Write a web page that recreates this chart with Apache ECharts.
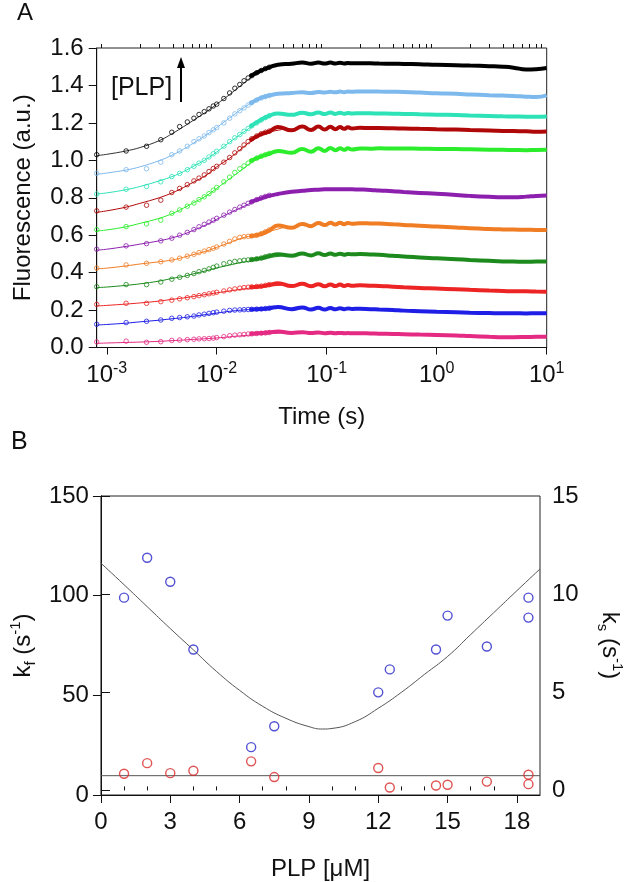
<!DOCTYPE html>
<html><head><meta charset="utf-8">
<script src="https://cdn.jsdelivr.net/npm/echarts@6/dist/echarts.min.js"></script>
<style>html,body{margin:0;padding:0;background:#fff}#c{width:633px;height:882px}</style>
</head><body><div id="c"></div>
<script>
const FONT = 'Arial, "Liberation Sans", Helvetica, sans-serif';

// ---------- Panel A : time courses ----------
const TIME_TICKS = [0.001, 0.01, 0.1, 1, 10];
const TIME_TICK_EXP = ['-3', '-2', '-1', '0', '1'];
const TIME_MINOR = [0.0009, 0.002, 0.003, 0.004, 0.005, 0.006, 0.007, 0.008, 0.009,
  0.02, 0.03, 0.04, 0.05, 0.06, 0.07, 0.08, 0.09, 0.2, 0.3, 0.4, 0.5, 0.6, 0.7, 0.8, 0.9,
  2, 3, 4, 5, 6, 7, 8, 9];
const FLUO_TICKS = [0, 0.2, 0.4, 0.6, 0.8, 1.0, 1.2, 1.4, 1.6];

const CIRCLE_T = [0.00081, 0.0015, 0.0023, 0.0031, 0.0039, 0.0046, 0.0054, 0.0062, 0.0069, 0.0077, 0.0085, 0.0093,
  0.0100, 0.0116, 0.0131, 0.0146, 0.0162, 0.0177, 0.0193, 0.0208, 0.0231, 0.0254, 0.0277, 0.0300];
const BAND_T = [0.02, 0.025, 0.03, 0.036, 0.048, 0.06, 0.072, 0.084, 0.096, 0.108, 0.12, 0.132, 0.144, 0.156, 0.17,
  0.2, 0.25, 0.3, 0.4, 0.5, 0.7, 1, 1.5, 2, 3, 4, 5, 6.5, 8, 10];
const FIT_T = [0.00081, 0.001, 0.0015, 0.002, 0.003, 0.004, 0.005, 0.006, 0.008, 0.01, 0.013, 0.017, 0.022, 0.03, 0.04];

// black
const circBlack = [1.03, 1.05, 1.075, 1.11, 1.15, 1.18, 1.205, 1.225, 1.245, 1.26, 1.275, 1.29, 1.30, 1.33, 1.36, 1.385, 1.405, 1.425, 1.44, 1.452, 1.468, 1.48, 1.49, 1.497];
const bandBlack = [1.448, 1.478, 1.497, 1.51, 1.516, 1.522, 1.516, 1.522, 1.517, 1.522, 1.517, 1.521, 1.517, 1.52, 1.518, 1.519, 1.518, 1.517, 1.516, 1.515, 1.513, 1.51, 1.508, 1.506, 1.503, 1.5, 1.495, 1.485, 1.487, 1.493];
const fitBlack = [1.025, 1.032, 1.05, 1.068, 1.105, 1.145, 1.18, 1.21, 1.258, 1.30, 1.35, 1.405, 1.455, 1.497, 1.512];
// light blue
const circLBlue = [0.93, 0.95, 0.955, 0.99, 1.03, 1.05, 1.075, 1.10, 1.115, 1.13, 1.148, 1.163, 1.175, 1.20, 1.225, 1.248, 1.265, 1.28, 1.295, 1.308, 1.322, 1.333, 1.34, 1.346];
const bandLBlue = [1.302, 1.333, 1.346, 1.355, 1.36, 1.363, 1.36, 1.365, 1.362, 1.366, 1.363, 1.367, 1.364, 1.367, 1.366, 1.368, 1.368, 1.367, 1.366, 1.365, 1.362, 1.358, 1.355, 1.352, 1.348, 1.346, 1.344, 1.34, 1.338, 1.347];
const fitLBlue = [0.925, 0.932, 0.948, 0.965, 0.998, 1.03, 1.06, 1.088, 1.135, 1.175, 1.225, 1.275, 1.315, 1.346, 1.357];
// turquoise
const circTurq = [0.82, 0.845, 0.86, 0.885, 0.913, 0.93, 0.95, 0.968, 0.985, 1.0, 1.018, 1.035, 1.048, 1.075, 1.1, 1.12, 1.138, 1.155, 1.17, 1.184, 1.2, 1.215, 1.228, 1.238];
const bandTurq = [1.178, 1.215, 1.238, 1.25, 1.243, 1.254, 1.246, 1.255, 1.247, 1.255, 1.248, 1.254, 1.249, 1.253, 1.25, 1.252, 1.251, 1.25, 1.249, 1.248, 1.246, 1.244, 1.242, 1.24, 1.237, 1.235, 1.234, 1.233, 1.233, 1.234];
const fitTurq = [0.82, 0.826, 0.843, 0.86, 0.89, 0.915, 0.94, 0.965, 1.005, 1.045, 1.095, 1.145, 1.19, 1.235, 1.25];
// dark red
const circDRed = [0.73, 0.75, 0.76, 0.787, 0.828, 0.85, 0.87, 0.89, 0.905, 0.922, 0.94, 0.956, 0.968, 0.99, 1.015, 1.04, 1.062, 1.082, 1.1, 1.115, 1.13, 1.142, 1.15, 1.156];
const bandDRed = [1.105, 1.138, 1.153, 1.178, 1.16, 1.18, 1.162, 1.18, 1.164, 1.179, 1.166, 1.178, 1.168, 1.176, 1.17, 1.174, 1.172, 1.172, 1.171, 1.17, 1.168, 1.166, 1.164, 1.162, 1.159, 1.157, 1.156, 1.155, 1.153, 1.154];
const fitDRed = [0.722, 0.73, 0.75, 0.77, 0.8, 0.828, 0.855, 0.88, 0.92, 0.965, 1.01, 1.065, 1.115, 1.15, 1.165];
// green
const circGreen = [0.63, 0.646, 0.66, 0.68, 0.717, 0.735, 0.755, 0.772, 0.79, 0.805, 0.822, 0.84, 0.855, 0.885, 0.91, 0.935, 0.955, 0.97, 0.985, 0.998, 1.012, 1.022, 1.03, 1.037];
const bandGreen = [0.995, 1.02, 1.035, 1.05, 1.04, 1.06, 1.046, 1.064, 1.05, 1.066, 1.054, 1.065, 1.056, 1.064, 1.058, 1.063, 1.062, 1.064, 1.063, 1.063, 1.062, 1.061, 1.06, 1.059, 1.057, 1.056, 1.055, 1.054, 1.055, 1.056];
const fitGreen = [0.622, 0.628, 0.645, 0.663, 0.69, 0.717, 0.745, 0.77, 0.81, 0.85, 0.9, 0.95, 1.0, 1.032, 1.045];
// purple
const circPurple = [0.525, 0.543, 0.555, 0.57, 0.584, 0.6, 0.615, 0.63, 0.645, 0.658, 0.67, 0.68, 0.69, 0.707, 0.723, 0.737, 0.75, 0.76, 0.77, 0.778, 0.79, 0.8, 0.807, 0.813];
const bandPurple = [0.775, 0.795, 0.81, 0.82, 0.832, 0.837, 0.841, 0.843, 0.845, 0.846, 0.846, 0.846, 0.846, 0.846, 0.845, 0.844, 0.842, 0.839, 0.835, 0.831, 0.826, 0.821, 0.815, 0.81, 0.805, 0.803, 0.803, 0.806, 0.81, 0.812];
const fitPurple = [0.52, 0.525, 0.54, 0.552, 0.57, 0.587, 0.605, 0.624, 0.655, 0.685, 0.718, 0.75, 0.78, 0.81, 0.826];
// orange
const circOrange = [0.424, 0.441, 0.45, 0.458, 0.468, 0.477, 0.488, 0.498, 0.507, 0.515, 0.523, 0.53, 0.537, 0.553, 0.567, 0.58, 0.588, 0.592, 0.594, 0.596, 0.6, 0.608, 0.618, 0.628];
const bandOrange = [0.594, 0.605, 0.625, 0.652, 0.64, 0.66, 0.648, 0.665, 0.654, 0.666, 0.657, 0.666, 0.659, 0.665, 0.661, 0.664, 0.663, 0.662, 0.658, 0.655, 0.65, 0.646, 0.641, 0.637, 0.633, 0.631, 0.63, 0.629, 0.628, 0.628];
const fitOrange = [0.42, 0.424, 0.436, 0.446, 0.458, 0.468, 0.482, 0.495, 0.515, 0.535, 0.56, 0.585, 0.6, 0.62, 0.64];
// dark green
const circDGreen = [0.325, 0.336, 0.336, 0.35, 0.365, 0.375, 0.385, 0.395, 0.405, 0.412, 0.42, 0.428, 0.435, 0.447, 0.455, 0.46, 0.463, 0.466, 0.468, 0.47, 0.474, 0.478, 0.485, 0.49];
const bandDGreen = [0.468, 0.476, 0.488, 0.498, 0.49, 0.502, 0.492, 0.503, 0.494, 0.502, 0.495, 0.501, 0.496, 0.5, 0.498, 0.499, 0.497, 0.495, 0.49, 0.486, 0.481, 0.477, 0.472, 0.468, 0.463, 0.46, 0.459, 0.458, 0.459, 0.459];
const fitDGreen = [0.32, 0.323, 0.332, 0.34, 0.355, 0.37, 0.38, 0.392, 0.41, 0.425, 0.44, 0.455, 0.466, 0.48, 0.49];
// red
const circRed = [0.23, 0.236, 0.236, 0.245, 0.253, 0.26, 0.266, 0.272, 0.277, 0.282, 0.287, 0.291, 0.295, 0.302, 0.308, 0.313, 0.317, 0.32, 0.322, 0.324, 0.326, 0.328, 0.332, 0.336];
const bandRed = [0.322, 0.326, 0.334, 0.343, 0.328, 0.34, 0.327, 0.338, 0.327, 0.337, 0.328, 0.336, 0.329, 0.334, 0.33, 0.332, 0.33, 0.329, 0.325, 0.322, 0.318, 0.315, 0.311, 0.308, 0.304, 0.302, 0.3, 0.3, 0.299, 0.298];
const fitRed = [0.222, 0.225, 0.232, 0.238, 0.248, 0.258, 0.265, 0.272, 0.283, 0.292, 0.302, 0.312, 0.32, 0.328, 0.333];
// blue
const circBlue = [0.124, 0.133, 0.14, 0.147, 0.156, 0.16, 0.164, 0.168, 0.174, 0.178, 0.182, 0.186, 0.189, 0.194, 0.198, 0.2, 0.201, 0.202, 0.203, 0.204, 0.205, 0.206, 0.208, 0.21];
const bandBlue = [0.203, 0.206, 0.21, 0.216, 0.205, 0.214, 0.203, 0.212, 0.203, 0.211, 0.204, 0.21, 0.205, 0.209, 0.206, 0.207, 0.205, 0.203, 0.2, 0.197, 0.194, 0.191, 0.188, 0.186, 0.184, 0.183, 0.183, 0.182, 0.183, 0.183];
const fitBlue = [0.12, 0.123, 0.13, 0.137, 0.146, 0.154, 0.16, 0.166, 0.176, 0.184, 0.193, 0.2, 0.204, 0.208, 0.212];
// pink
const circPink = [0.03, 0.034, 0.028, 0.031, 0.038, 0.04, 0.042, 0.044, 0.046, 0.047, 0.048, 0.05, 0.053, 0.058, 0.063, 0.066, 0.068, 0.07, 0.072, 0.073, 0.075, 0.076, 0.078, 0.08];
const bandPink = [0.073, 0.077, 0.081, 0.085, 0.078, 0.082, 0.077, 0.08, 0.076, 0.079, 0.076, 0.078, 0.076, 0.077, 0.076, 0.076, 0.075, 0.074, 0.072, 0.071, 0.069, 0.067, 0.064, 0.061, 0.057, 0.055, 0.055, 0.056, 0.057, 0.058];
const fitPink = [0.022, 0.024, 0.027, 0.029, 0.033, 0.037, 0.04, 0.043, 0.047, 0.051, 0.057, 0.063, 0.068, 0.074, 0.078];

const TRACE_COLORS = ['#000000', '#7db9ec', '#2ce2b6', '#b00808', '#2ced2c', '#8c1fae', '#f07c24', '#1c8a1c', '#ec2424', '#1e1ee6', '#e42a82'];
const FIT_COLORS   = ['#333333', '#7db9ec', '#2ce2b6', '#b00808', '#2ced2c', '#8c1fae', '#f07c24', '#1c8a1c', '#ec2424', '#1e1ee6', '#e42a82'];
const TRACE_CIRC = [circBlack, circLBlue, circTurq, circDRed, circGreen, circPurple, circOrange, circDGreen, circRed, circBlue, circPink];
const TRACE_BAND = [bandBlack, bandLBlue, bandTurq, bandDRed, bandGreen, bandPurple, bandOrange, bandDGreen, bandRed, bandBlue, bandPink];
const TRACE_FIT  = [fitBlack, fitLBlue, fitTurq, fitDRed, fitGreen, fitPurple, fitOrange, fitDGreen, fitRed, fitBlue, fitPink];

// ---------- Panel B : rate constants ----------
const PLP_TICKS = [0, 3, 6, 9, 12, 15, 18];
const PLP_MINOR = [1, 2, 4, 5, 7, 8, 10, 11, 13, 14, 16, 17];
const KF_TICKS = [0, 50, 100, 150];
const KS_TICKS = [0, 5, 10, 15];
const kfPLP = [1, 2, 3, 4, 6.5, 7.5, 12, 12.5, 14.5, 15, 16.7, 18.5, 18.5];
const kfVal = [99, 119, 107, 73, 24, 34.5, 51.5, 63, 73, 90, 74.5, 99, 89];
const ksPLP = [1, 2, 3, 4, 6.5, 7.5, 12, 12.5, 14.5, 15, 16.7, 18.5, 18.5];
const ksVal = [0.85, 1.39, 0.88, 1.0, 1.48, 0.68, 1.14, 0.15, 0.25, 0.29, 0.45, 0.8, 0.32];
const kfFitX = [0, 1, 2, 3, 4, 5, 6, 7, 8, 9, 9.6, 10, 11, 12, 13, 14, 15, 16, 17, 18, 19];
const kfFitY = [116.3, 105.5, 94.5, 83.5, 72.8, 62, 52.5, 44.5, 38.5, 34.3, 33.1, 33.4, 36.8, 43.5, 51.5, 60.5, 69.5, 80.5, 91.5, 102.5, 113.4];
const ksFitX = [0, 19];
const ksFitY = [0.75, 0.75];

const zip = (xs, ys) => xs.map((x, i) => [x, ys[i]]);

const series = [];
TRACE_COLORS.forEach((c, i) => {
  series.push({ type: 'line', xAxisIndex: 0, yAxisIndex: 0, data: zip(FIT_T, TRACE_FIT[i]), smooth: 0.4,
    showSymbol: false, lineStyle: { color: FIT_COLORS[i], width: 1 }, z: 2, silent: true });
  series.push({ type: 'scatter', xAxisIndex: 0, yAxisIndex: 0, data: zip(CIRCLE_T, TRACE_CIRC[i]), symbol: 'circle',
    symbolSize: 4.5, itemStyle: { color: 'rgba(255,255,255,0)', borderColor: c, borderWidth: 1 }, z: 3, silent: true });
  series.push({ type: 'line', xAxisIndex: 0, yAxisIndex: 0, data: zip(BAND_T, TRACE_BAND[i]), smooth: 0.5,
    showSymbol: false, lineStyle: { color: c, width: 4 }, z: 4, silent: true });
});
series.push({ type: 'line', xAxisIndex: 2, yAxisIndex: 1, data: zip(kfFitX, kfFitY), smooth: 0.5, showSymbol: false,
  lineStyle: { color: '#555', width: 1 }, z: 2, silent: true });
series.push({ type: 'line', xAxisIndex: 2, yAxisIndex: 2, data: zip(ksFitX, ksFitY), showSymbol: false,
  lineStyle: { color: '#555', width: 1 }, z: 2, silent: true });
series.push({ type: 'scatter', xAxisIndex: 2, yAxisIndex: 1, data: zip(kfPLP, kfVal), symbol: 'circle', symbolSize: 9,
  itemStyle: { color: 'rgba(255,255,255,0)', borderColor: '#2626c8', borderWidth: 1.4 }, z: 3, silent: true });
series.push({ type: 'scatter', xAxisIndex: 2, yAxisIndex: 2, data: zip(ksPLP, ksVal), symbol: 'circle', symbolSize: 9,
  itemStyle: { color: 'rgba(255,255,255,0)', borderColor: '#d82828', borderWidth: 1.4 }, z: 3, silent: true });

const FS = 24;
const axisLineStyle = { lineStyle: { color: '#111', width: 1 } };
const lbl = { color: '#111', fontFamily: FONT, fontSize: FS };
const nameStyle = { color: '#111', fontFamily: FONT, fontSize: FS };
const kRich = {
  b: { fontFamily: FONT, fontSize: FS, color: '#111', lineHeight: 30 },
  sub: { fontFamily: FONT, fontSize: 15, color: '#111', lineHeight: 14, verticalAlign: 'bottom' },
  sup: { fontFamily: FONT, fontSize: 15, color: '#111', lineHeight: 14, verticalAlign: 'top' }
};

const option = {
  animation: false,
  backgroundColor: '#fff',
  grid: [
    { left: 96.7, top: 48, width: 450, height: 299.5, show: true, borderColor: '#222', borderWidth: 1, backgroundColor: 'transparent' },
    { left: 96, top: 496, width: 449.7, height: 299.3, show: true, borderColor: '#222', borderWidth: 1, backgroundColor: 'transparent' }
  ],
  xAxis: [
    { gridIndex: 0, type: 'log', logBase: 10, min: 0.00081, max: 10, axisLine: axisLineStyle,
      axisTick: { show: true, length: 7, customValues: TIME_TICKS, lineStyle: { color: '#111' } },
      axisLabel: Object.assign({}, lbl, { customValues: TIME_TICKS, margin: 13,
        formatter: v => { const i = TIME_TICKS.findIndex(t => Math.abs(t - v) / t < 1e-6); return i < 0 ? '' : '{b|10}{s|' + TIME_TICK_EXP[i] + '}'; },
        rich: { b: { fontFamily: FONT, fontSize: FS, color: '#111', lineHeight: 27, verticalAlign: 'bottom' },
                s: { fontFamily: FONT, fontSize: 16, color: '#111', lineHeight: 15, verticalAlign: 'top' } } }),
      splitLine: { show: false }, name: 'Time (s)', nameLocation: 'middle', nameGap: 58, nameTextStyle: nameStyle },
    { gridIndex: 0, type: 'log', logBase: 10, min: 0.00081, max: 10, axisLine: { show: false },
      axisTick: { show: true, length: 4, customValues: TIME_MINOR, lineStyle: { color: '#111' } },
      axisLabel: { show: false }, splitLine: { show: false } },
    { gridIndex: 1, type: 'value', min: 0, max: 19, axisLine: axisLineStyle,
      axisTick: { show: true, length: 8, customValues: PLP_TICKS, lineStyle: { color: '#111' } },
      axisLabel: Object.assign({}, lbl, { customValues: PLP_TICKS, margin: 15 }),
      splitLine: { show: false }, name: 'PLP [μM]', nameLocation: 'middle', nameGap: 62, nameTextStyle: nameStyle },
    { gridIndex: 1, type: 'value', min: 0, max: 19, axisLine: { show: false },
      axisTick: { show: true, length: 4, customValues: PLP_MINOR, lineStyle: { color: '#111' } },
      axisLabel: { show: false }, splitLine: { show: false } }
  ],
  yAxis: [
    { gridIndex: 0, type: 'value', min: 0, max: 1.6, interval: 0.2, axisLine: { show: true, lineStyle: { color: '#111' } },
      axisTick: { show: true, length: 8, lineStyle: { color: '#111' } },
      axisLabel: Object.assign({}, lbl, { margin: 13, customValues: FLUO_TICKS, formatter: v => v.toFixed(1) }),
      splitLine: { show: false }, name: 'Fluorescence (a.u.)', nameLocation: 'middle', nameGap: 61, nameTextStyle: nameStyle },
    { gridIndex: 1, type: 'value', min: 0, max: 150, interval: 50, axisLine: { show: true, lineStyle: { color: '#111' } },
      axisTick: { show: true, length: 8, lineStyle: { color: '#111' } },
      axisLabel: Object.assign({}, lbl, { margin: 12, customValues: KF_TICKS }),
      splitLine: { show: false },
      name: '{b|k}{sub|f}{b| (s}{sup|-1}{b|)}', nameLocation: 'middle', nameGap: 62,
      nameTextStyle: Object.assign({}, nameStyle, { rich: kRich }) },
    { gridIndex: 1, type: 'value', position: 'right', min: -0.234, max: 15, axisLine: { show: true, lineStyle: { color: '#111' } },
      axisTick: { show: true, length: 9, customValues: KS_TICKS, lineStyle: { color: '#111' } },
      axisLabel: Object.assign({}, lbl, { margin: 12, customValues: KS_TICKS }),
      splitLine: { show: false },
      name: '{b|k}{sub|s}{b| (s}{sup|-1}{b|)}', nameLocation: 'middle', nameGap: 55, nameRotate: -90,
      nameTextStyle: Object.assign({}, nameStyle, { rich: kRich }) }
  ],
  graphic: [
    { type: 'text', left: 17, top: 1, style: { text: 'A', font: '24px ' + FONT, fill: '#111' } },
    { type: 'text', left: 11, top: 430, style: { text: 'B', font: '25px ' + FONT, fill: '#111' } },
    { type: 'text', left: 111, top: 76, style: { text: '[PLP]', font: '25px ' + FONT, fill: '#111' } },
    { type: 'line', shape: { x1: 181, y1: 102, x2: 181, y2: 66 }, style: { stroke: '#000', lineWidth: 2 } },
    { type: 'polygon', shape: { points: [[177, 68], [185, 68], [181, 57]] }, style: { fill: '#000' } }
  ],
  series: series
};

const chart = echarts.init(document.getElementById('c'), null, { renderer: 'canvas', width: 633, height: 882 });
chart.setOption(option);
</script></body></html>
